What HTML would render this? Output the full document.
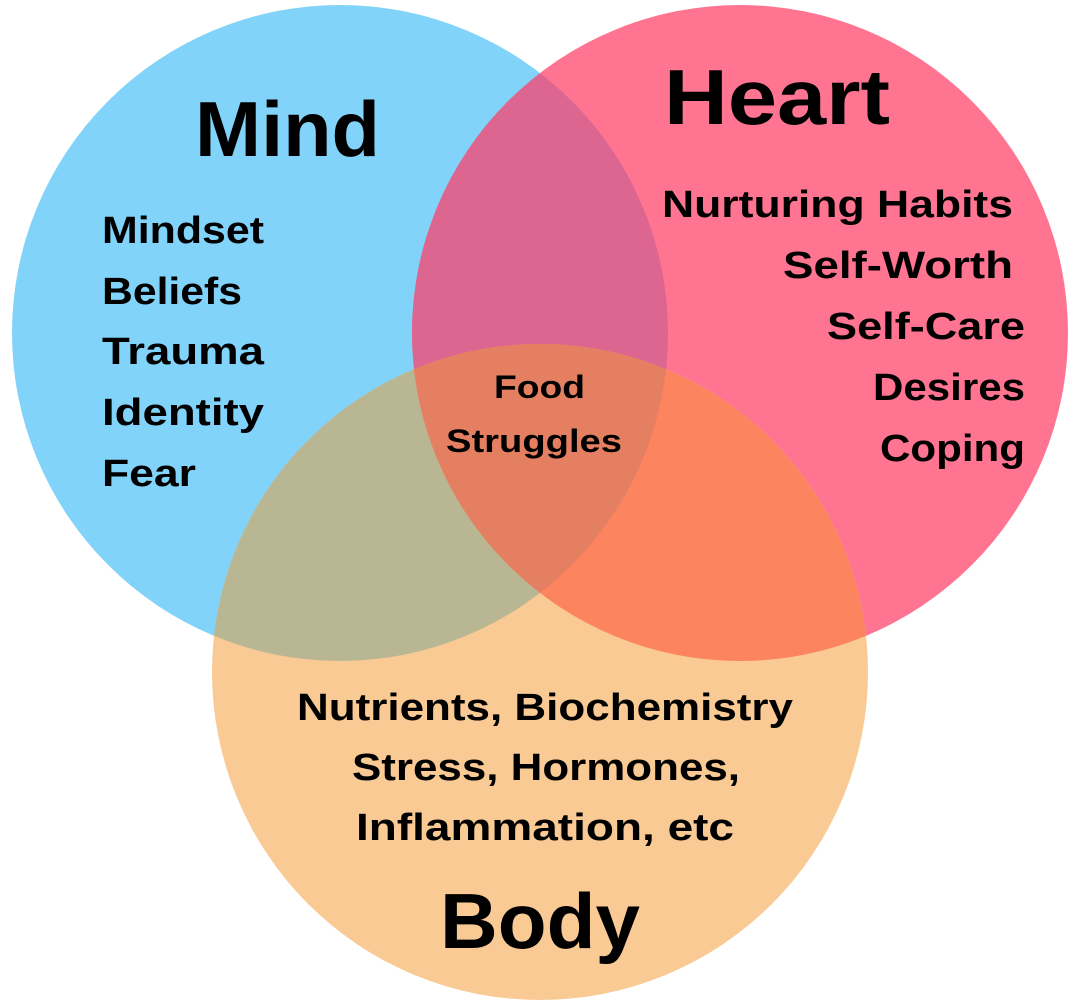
<!DOCTYPE html>
<html><head><meta charset="utf-8"><style>html,body{margin:0;padding:0;background:#fff}svg{display:block}</style></head>
<body>
<svg width="1080" height="1006" viewBox="0 0 1080 1006" xmlns="http://www.w3.org/2000/svg">
<defs>
<clipPath id="cm"><circle cx="340" cy="333" r="328"/></clipPath>
<clipPath id="ch"><circle cx="740" cy="333" r="328"/></clipPath>
<clipPath id="cb"><circle cx="540" cy="672" r="328"/></clipPath>
</defs>
<circle cx="340" cy="333" r="328" fill="#81D3F9"/>
<circle cx="740" cy="333" r="328" fill="#FF7591"/>
<circle cx="540" cy="672" r="328" fill="#F9CA94"/>
<circle cx="740" cy="333" r="328" fill="#DC668F" clip-path="url(#cm)"/>
<circle cx="540" cy="672" r="328" fill="#B9B793" clip-path="url(#cm)"/>
<circle cx="540" cy="672" r="328" fill="#FC855F" clip-path="url(#ch)"/>
<g clip-path="url(#cm)"><circle cx="540" cy="672" r="328" fill="#E48061" clip-path="url(#ch)"/></g>
<g font-family="Liberation Sans, sans-serif" font-weight="bold" fill="#000">
<text x="195" y="156" font-size="78" textLength="185" lengthAdjust="spacingAndGlyphs">Mind</text>
<text x="664" y="124" font-size="78" textLength="226" lengthAdjust="spacingAndGlyphs">Heart</text>
<text x="440" y="948" font-size="78" textLength="200" lengthAdjust="spacingAndGlyphs">Body</text>
<g font-size="38">
<text x="102" y="243" textLength="162" lengthAdjust="spacingAndGlyphs">Mindset</text>
<text x="102" y="304" textLength="140" lengthAdjust="spacingAndGlyphs">Beliefs</text>
<text x="102" y="364" textLength="162" lengthAdjust="spacingAndGlyphs">Trauma</text>
<text x="102" y="425" textLength="162" lengthAdjust="spacingAndGlyphs">Identity</text>
<text x="102" y="486" textLength="94" lengthAdjust="spacingAndGlyphs">Fear</text>
<text x="662" y="217" textLength="351" lengthAdjust="spacingAndGlyphs">Nurturing Habits</text>
<text x="783" y="278" textLength="230" lengthAdjust="spacingAndGlyphs">Self-Worth</text>
<text x="827" y="339" textLength="198" lengthAdjust="spacingAndGlyphs">Self-Care</text>
<text x="873" y="400" textLength="152" lengthAdjust="spacingAndGlyphs">Desires</text>
<text x="880" y="461" textLength="145" lengthAdjust="spacingAndGlyphs">Coping</text>
<text x="297" y="720" textLength="496" lengthAdjust="spacingAndGlyphs">Nutrients, Biochemistry</text>
<text x="352" y="780" textLength="388" lengthAdjust="spacingAndGlyphs">Stress, Hormones,</text>
<text x="356" y="840" textLength="378" lengthAdjust="spacingAndGlyphs">Inflammation, etc</text>
</g>
<g font-size="32">
<text x="494" y="398" textLength="91" lengthAdjust="spacingAndGlyphs">Food</text>
<text x="446" y="452" textLength="176" lengthAdjust="spacingAndGlyphs">Struggles</text>
</g>
</g>
</svg>
</body></html>
